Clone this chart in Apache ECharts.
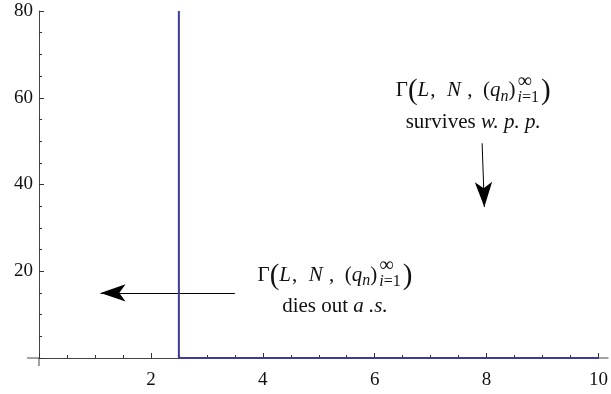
<!DOCTYPE html>
<html>
<head>
<meta charset="utf-8">
<script src="https://cdn.jsdelivr.net/npm/echarts@6/dist/echarts.min.js"></script>
<style>html,body{margin:0;padding:0;background:#fff}#chart{width:611px;height:394px}</style>
</head>
<body>
<div id="chart"></div>
<script>
// axis ranges
var xTicks = [0, 2, 4, 6, 8, 10];
var yTicks = [0, 20, 40, 60, 80];
// boundary curve (vertical drop at x = 2.5, then along the axis)
var boundaryX = [2.5, 2.5, 10];
var boundaryY = [80, 0, 0];
// annotation arrows, [start, tip] in data units
var arrowDown = [[7.92, 49.5], [7.96, 34.8]];
var arrowLeft = [[3.5, 15], [1.1, 15]];
// annotation anchors: x, y of formula, y of caption
var noteSurvive = [7.76, 61.6, 54.2];
var noteDie = [5.29, 19.1, 11.8];

var serif = '"Liberation Serif", "DejaVu Serif", serif';
var chart = echarts.init(document.getElementById('chart'));

var option = {
  animation: false,
  grid: { left: 39, right: 9, top: 11, bottom: 36 },
  xAxis: {
    type: 'value',
    min: xTicks[0], max: xTicks[xTicks.length - 1], interval: 2,
    axisLine: { onZero: false, lineStyle: { color: '#444', width: 1 } },
    axisTick: { inside: true, length: 5, lineStyle: { color: '#333' } },
    minorTick: { show: true, splitNumber: 4, length: 3, lineStyle: { color: '#333' } },
    splitLine: { show: false },
    axisLabel: {
      margin: 13, color: '#111', fontSize: 19, fontFamily: serif,
      formatter: function (v) { return v === 0 ? '' : v; }
    }
  },
  yAxis: {
    type: 'value',
    min: yTicks[0], max: yTicks[yTicks.length - 1], interval: 20,
    axisLine: { show: true, onZero: false, lineStyle: { color: '#444', width: 1 } },
    axisTick: { show: true, inside: true, length: 5, lineStyle: { color: '#333' } },
    minorTick: { show: true, splitNumber: 4, length: 3, lineStyle: { color: '#333' } },
    splitLine: { show: false },
    axisLabel: {
      margin: 6, color: '#111', fontSize: 19, fontFamily: serif,
      formatter: function (v) { return v === 0 ? '' : v; }
    }
  },
  series: [{
    type: 'line',
    data: boundaryX.map(function (x, i) { return [x, boundaryY[i]]; }),
    showSymbol: false,
    z: 5,
    lineStyle: { color: '#3d3d99', width: 2 },
    markLine: {
      silent: true,
      symbol: ['none', 'arrow'],
      symbolSize: [13, 25],
      label: { show: false },
      lineStyle: { color: '#000', width: 1, type: 'solid' },
      data: [
        [{ coord: arrowDown[0] }, { coord: arrowDown[1] }],
        [{ coord: arrowLeft[0] }, { coord: arrowLeft[1] }]
      ]
    }
  }]
};
chart.setOption(option);

// --- math-like labels ---
var ctx = document.createElement('canvas').getContext('2d');
function fontStr(p) { return (p.it ? 'italic ' : '') + p.size + 'px ' + serif; }
function measure(p) { ctx.font = fontStr(p); return ctx.measureText(p.t).width; }

function gammaParts() {
  return [
    { t: 'Γ', size: 21 },
    { t: '(', size: 29, dy: 1 },
    { t: 'L', size: 21, it: true, gap: 1 },
    { t: ',  ', size: 21, gap: 1 },
    { t: 'N', size: 21, it: true, gap: 1 },
    { t: ' ,  (', size: 21 },
    { t: 'q', size: 21, it: true },
    { t: 'n', size: 16, it: true, dy: 6 },
    { t: ')', size: 21, gap: 1 },
    { stack: [
      [{ t: '∞', size: 20, dy: -9 }],
      [{ t: 'i', size: 16, it: true, dy: 7 }, { t: '=1', size: 16, dy: 7 }]
    ] },
    { t: ')', size: 29, dy: 1 }
  ];
}

function buildLine(parts, cx, cy) {
  var items = [];
  var x = 0;
  parts.forEach(function (p) {
    if (p.stack) {
      var w = 0;
      p.stack.forEach(function (row) {
        var rx = x + 1;
        row.forEach(function (s) { items.push({ p: s, x: rx }); rx += measure(s); });
        w = Math.max(w, rx - x);
      });
      x += w + 2;
    } else {
      items.push({ p: p, x: x });
      x += measure(p) + (p.gap || 0);
    }
  });
  return {
    type: 'group', x: cx, y: cy, silent: true,
    children: items.map(function (it) {
      return {
        type: 'text', x: it.x - x / 2, y: it.p.dy || 0,
        style: { text: it.p.t, font: fontStr(it.p), fill: '#111', verticalAlign: 'middle' }
      };
    })
  };
}

function note(anchor, caption) {
  var a = chart.convertToPixel({ gridIndex: 0 }, [anchor[0], anchor[1]]);
  var b = chart.convertToPixel({ gridIndex: 0 }, [anchor[0], anchor[2]]);
  return [buildLine(gammaParts(), a[0], a[1]), buildLine(caption, b[0], b[1])];
}

var o = chart.convertToPixel({ gridIndex: 0 }, [xTicks[0], yTicks[0]]);
var e = chart.convertToPixel({ gridIndex: 0 }, [xTicks[xTicks.length - 1], yTicks[0]]);
var axisExt = [
  { type: 'line', shape: { x1: o[0] - 12, y1: o[1], x2: o[0], y2: o[1] }, style: { stroke: '#444', lineWidth: 1 } },
  { type: 'line', shape: { x1: e[0], y1: e[1], x2: e[0] + 10, y2: e[1] }, style: { stroke: '#444', lineWidth: 1 } },
  { type: 'line', shape: { x1: o[0], y1: o[1], x2: o[0], y2: o[1] + 8 }, style: { stroke: '#444', lineWidth: 1 } }
];

var graphics = axisExt
  .concat(note(noteSurvive, [
    { t: 'survives ', size: 21 },
    { t: 'w. p. p.', size: 21, it: true }
  ]))
  .concat(note(noteDie, [
    { t: 'dies out ', size: 21 },
    { t: 'a .s.', size: 21, it: true }
  ]));

chart.setOption({ graphic: graphics });
window.addEventListener('resize', function () { chart.resize(); });
</script>
</body>
</html>
